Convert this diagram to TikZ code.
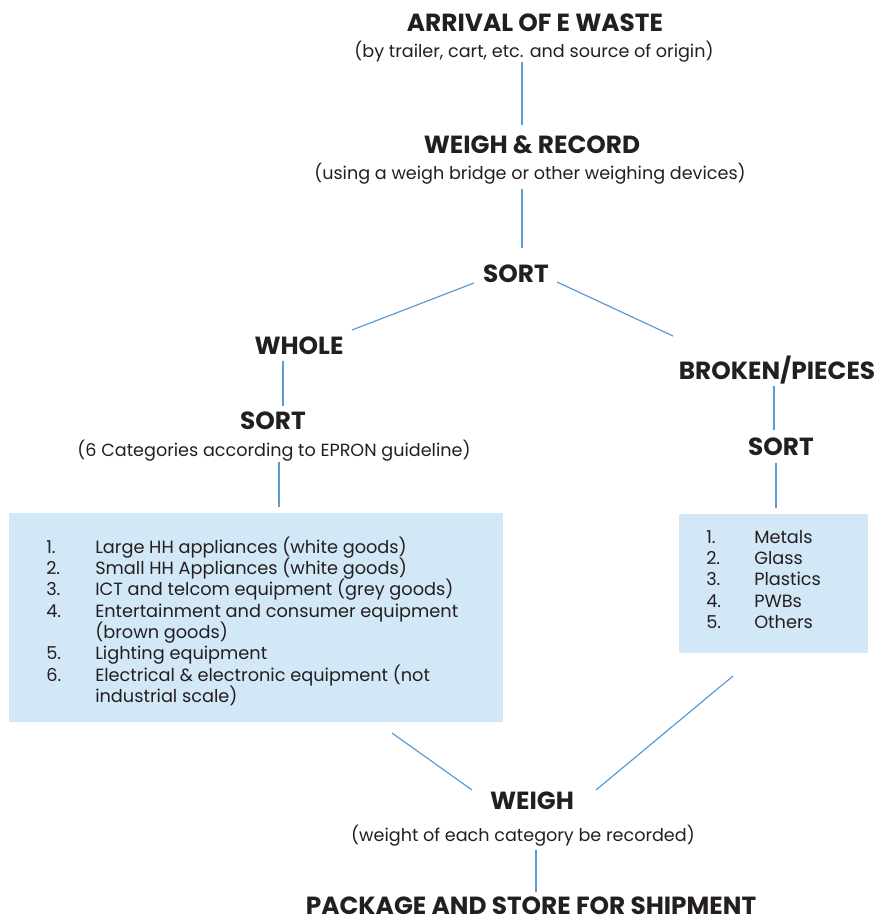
\documentclass[tikz,border=0pt]{standalone}
\usepackage{fontspec}
\setmainfont{Poppins}
\definecolor{txt}{HTML}{231F20}
\definecolor{boxfill}{HTML}{D3E8F6}
\definecolor{conn}{HTML}{5B9BD5}
\begin{document}
\begin{tikzpicture}[x=0.75pt,y=-0.75pt,
  head/.style={font=\fontsize{18.6}{22}\selectfont\bfseries, text=txt, anchor=base, inner sep=0pt},
  sub/.style={font=\fontsize{13.2}{15}\selectfont, text=txt, anchor=base, inner sep=0pt},
  item/.style={font=\fontsize{13.3}{15}\selectfont, text=txt, anchor=base west, inner sep=0pt},
  listbox/.style={fill=boxfill, draw=none},
  conline/.style={draw=conn, line width=0.9pt}]
\useasboundingbox (0,0) rectangle (877,923);
% texts
\node[head] (arr) at (535,32) {ARRIVAL OF E WASTE};
\node[sub] (arrs) at (534,58) {(by trailer, cart, etc. and source of origin)};
\node[head] (wr) at (532,154) {WEIGH \& RECORD};
\node[sub] (wrs) at (530,180) {(using a weigh bridge or other weighing devices)};
\node[head] (sort) at (516,282) {SORT};
\node[head] (whole) at (299,354) {WHOLE};
\node[head] (sortl) at (273,429) {SORT};
\node[sub] (sortls) at (274,456) {(6 Categories according to EPRON guideline)};
\node[head] (broken) at (777,379) {BROKEN/PIECES};
\node[head] (sortr) at (781,455) {SORT};
% boxes
\path[listbox] (9,513) rectangle (503,722);
\node[inner sep=0pt, minimum width=494*0.75pt, minimum height=209*0.75pt] (lbox) at (256,617.5) {};
\path[listbox] (679,514) rectangle (868,653);
\node[inner sep=0pt, minimum width=189*0.75pt, minimum height=139*0.75pt] (rbox) at (773.5,583.5) {};
% left list
\node[item] (l1n) at (46,553) {1.};
\node[item] (l1) at (95,553) {Large HH appliances (white goods)};
\node[item] (l2n) at (46,574.3) {2.};
\node[item] (l2) at (95,574.3) {Small HH Appliances (white goods)};
\node[item] (l3n) at (46,595.6) {3.};
\node[item] (l3) at (95,595.6) {ICT and telcom equipment (grey goods)};
\node[item] (l4n) at (46,617) {4.};
\node[item] (l4) at (95,617) {Entertainment and consumer equipment};
\node[item] (l4b) at (95,638.3) {(brown goods)};
\node[item] (l5n) at (46,659.6) {5.};
\node[item] (l5) at (95,659.6) {Lighting equipment};
\node[item] (l6n) at (46,681) {6.};
\node[item] (l6) at (95,681) {Electrical \& electronic equipment (not};
\node[item] (l6b) at (95,702.3) {industrial scale)};
% right list
\node[item] (r1n) at (706,543) {1.};
\node[item] (r1) at (754,543) {Metals};
\node[item] (r2n) at (706,564.3) {2.};
\node[item] (r2) at (754,564.3) {Glass};
\node[item] (r3n) at (706,585.6) {3.};
\node[item] (r3) at (754,585.6) {Plastics};
\node[item] (r4n) at (706,607) {4.};
\node[item] (r4) at (754,607) {PWBs};
\node[item] (r5n) at (706,628.3) {5.};
\node[item] (r5) at (754,628.3) {Others};
% bottom
\node[head] (weigh) at (532,809) {WEIGH};
\node[sub] (weighs) at (523,841) {(weight of each category be recorded)};
\node[head] (pack) at (531,914) {PACKAGE AND STORE FOR SHIPMENT};
% connector end points
\coordinate (c1a) at (522,62); \coordinate (c1b) at (522,125);
\coordinate (c2a) at (522,189); \coordinate (c2b) at (522,248);
\coordinate (c3a) at (474,283); \coordinate (c3b) at (352,330);
\coordinate (c4a) at (557,282); \coordinate (c4b) at (673,336);
\coordinate (c5a) at (283,361); \coordinate (c5b) at (283,406);
\coordinate (c6a) at (279,462); \coordinate (c6b) at (279,507);
\coordinate (c7a) at (774,386); \coordinate (c7b) at (774,430);
\coordinate (c8a) at (776,463); \coordinate (c8b) at (776,508);
\coordinate (c9a) at (392,733); \coordinate (c9b) at (472,790);
\coordinate (c10a) at (733,676); \coordinate (c10b) at (596,790);
\coordinate (c11a) at (536,850); \coordinate (c11b) at (536,892);
\draw[conline] (c1a) -- (c1b);
\draw[conline] (c2a) -- (c2b);
\draw[conline] (c3a) -- (c3b);
\draw[conline] (c4a) -- (c4b);
\draw[conline] (c5a) -- (c5b);
\draw[conline] (c6a) -- (c6b);
\draw[conline] (c7a) -- (c7b);
\draw[conline] (c8a) -- (c8b);
\draw[conline] (c9a) -- (c9b);
\draw[conline] (c10a) -- (c10b);
\draw[conline] (c11a) -- (c11b);
\end{tikzpicture}
\end{document}
